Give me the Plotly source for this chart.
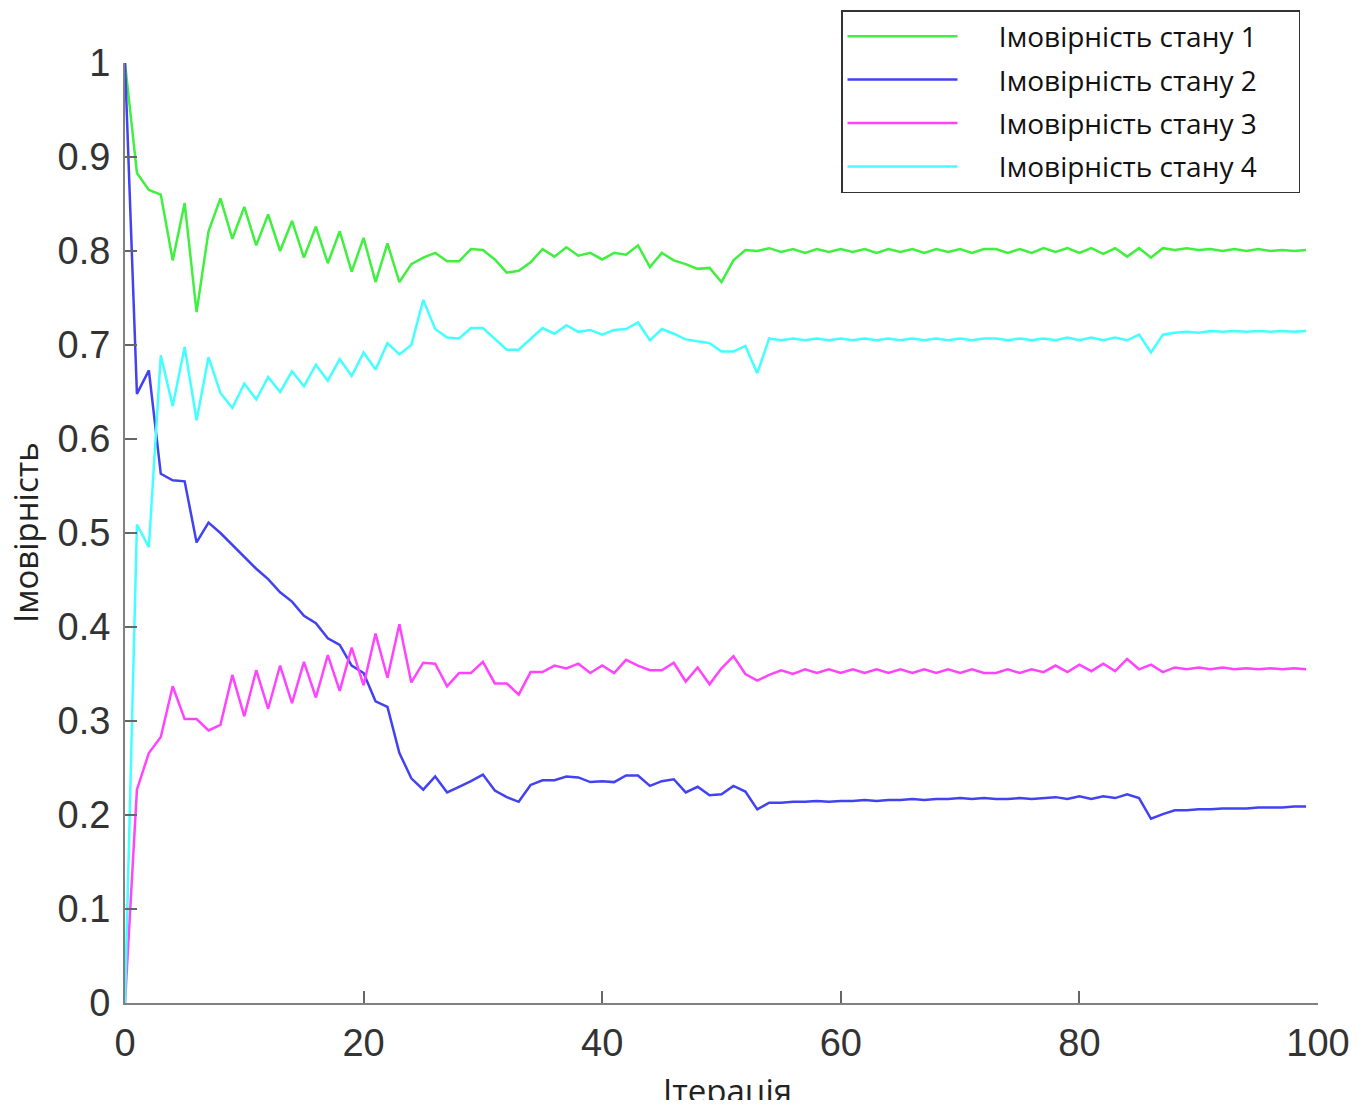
import plotly.graph_objects as go

iterations = list(range(100))

state1 = [1.000, 0.883, 0.865, 0.860, 0.790, 0.851, 0.735, 0.821, 0.856, 0.813,
          0.847, 0.806, 0.839, 0.800, 0.832, 0.793, 0.826, 0.787, 0.821, 0.778,
          0.814, 0.767, 0.808, 0.767, 0.786, 0.793, 0.798, 0.789, 0.789, 0.802,
          0.801, 0.791, 0.777, 0.779, 0.788, 0.802, 0.794, 0.804, 0.795, 0.798,
          0.791, 0.798, 0.796, 0.806, 0.783, 0.798, 0.790, 0.786, 0.781, 0.782,
          0.767, 0.790, 0.801, 0.800, 0.803, 0.799, 0.802, 0.798, 0.802, 0.799,
          0.802, 0.799, 0.802, 0.798, 0.802, 0.799, 0.802, 0.798, 0.802, 0.799,
          0.802, 0.798, 0.802, 0.802, 0.798, 0.802, 0.798, 0.803, 0.799, 0.803,
          0.798, 0.803, 0.797, 0.803, 0.794, 0.803, 0.793, 0.803, 0.801, 0.803,
          0.801, 0.802, 0.800, 0.802, 0.800, 0.802, 0.800, 0.801, 0.800, 0.801]

state2 = [1.000, 0.648, 0.673, 0.563, 0.556, 0.555, 0.490, 0.511, 0.500, 0.487,
          0.474, 0.462, 0.451, 0.437, 0.427, 0.412, 0.404, 0.388, 0.381, 0.359,
          0.351, 0.321, 0.315, 0.266, 0.239, 0.227, 0.241, 0.224, 0.230, 0.236,
          0.243, 0.226, 0.219, 0.214, 0.232, 0.237, 0.237, 0.241, 0.240, 0.235,
          0.236, 0.235, 0.242, 0.242, 0.231, 0.236, 0.238, 0.224, 0.230, 0.221,
          0.222, 0.231, 0.225, 0.206, 0.213, 0.213, 0.214, 0.214, 0.215, 0.214,
          0.215, 0.215, 0.216, 0.215, 0.216, 0.216, 0.217, 0.216, 0.217, 0.217,
          0.218, 0.217, 0.218, 0.217, 0.217, 0.218, 0.217, 0.218, 0.219, 0.217,
          0.220, 0.217, 0.220, 0.218, 0.222, 0.218, 0.196, 0.201, 0.205, 0.205,
          0.206, 0.206, 0.207, 0.207, 0.207, 0.208, 0.208, 0.208, 0.209, 0.209]

state3 = [0.000, 0.227, 0.266, 0.283, 0.337, 0.302, 0.302, 0.290, 0.296, 0.349,
          0.305, 0.354, 0.313, 0.359, 0.319, 0.363, 0.325, 0.370, 0.332, 0.378,
          0.338, 0.393, 0.346, 0.403, 0.341, 0.362, 0.361, 0.337, 0.351, 0.351,
          0.363, 0.340, 0.340, 0.328, 0.352, 0.352, 0.359, 0.356, 0.361, 0.351,
          0.359, 0.351, 0.365, 0.359, 0.354, 0.354, 0.362, 0.342, 0.357, 0.339,
          0.356, 0.369, 0.350, 0.343, 0.349, 0.354, 0.350, 0.355, 0.351, 0.355,
          0.351, 0.355, 0.351, 0.355, 0.351, 0.355, 0.351, 0.355, 0.351, 0.355,
          0.351, 0.355, 0.351, 0.351, 0.355, 0.351, 0.355, 0.352, 0.359, 0.352,
          0.360, 0.353, 0.361, 0.353, 0.366, 0.355, 0.360, 0.352, 0.357, 0.355,
          0.357, 0.355, 0.357, 0.355, 0.356, 0.355, 0.356, 0.355, 0.356, 0.355]

state4 = [0.000, 0.509, 0.485, 0.689, 0.635, 0.698, 0.620, 0.687, 0.649, 0.633,
          0.659, 0.642, 0.666, 0.650, 0.672, 0.656, 0.679, 0.662, 0.685, 0.667,
          0.692, 0.674, 0.702, 0.690, 0.700, 0.748, 0.717, 0.708, 0.707, 0.718,
          0.718, 0.707, 0.695, 0.695, 0.707, 0.718, 0.712, 0.721, 0.714, 0.716,
          0.711, 0.716, 0.717, 0.724, 0.705, 0.717, 0.712, 0.706, 0.704, 0.702,
          0.693, 0.693, 0.699, 0.670, 0.707, 0.705, 0.707, 0.705, 0.707, 0.705,
          0.707, 0.705, 0.707, 0.705, 0.707, 0.705, 0.707, 0.705, 0.707, 0.705,
          0.707, 0.705, 0.707, 0.707, 0.705, 0.707, 0.705, 0.707, 0.705, 0.708,
          0.705, 0.708, 0.705, 0.708, 0.705, 0.711, 0.692, 0.711, 0.713, 0.714,
          0.713, 0.715, 0.714, 0.715, 0.714, 0.715, 0.714, 0.715, 0.714, 0.715]

names = ["Імовірність стану 1", "Імовірність стану 2",
         "Імовірність стану 3", "Імовірність стану 4"]
colors = ["#3ff03f", "#4242f2", "#ff44ff", "#44ffff"]
series = [state1, state2, state3, state4]

x_ticks = [0, 20, 40, 60, 80, 100]
y_ticks = [0, 0.1, 0.2, 0.3, 0.4, 0.5, 0.6, 0.7, 0.8, 0.9, 1]
x_title = "Ітерація"
y_title = "Імовірність"

NB = "\u00a0"
fig = go.Figure()
for name, col, ys in zip(names, colors, series):
    fig.add_trace(go.Scatter(x=iterations, y=ys, mode="lines",
                             name=NB * 5 + name + NB * 5,
                             legendgroup=name,
                             line=dict(color=col, width=2.5)))

W, H = 1349, 1092
L, R, T, B = 117, 39, 55, 97
plot_w, plot_h = W - L - R, H - T - B
axis_font = dict(family="Liberation Sans, Arial, sans-serif", size=38, color="#333333")
title_font = dict(family="Open Sans, sans-serif", size=33, color="#222222")
fig.update_layout(
    width=W, height=H,
    margin=dict(l=L, r=R, t=T, b=B, autoexpand=False),
    paper_bgcolor="white", plot_bgcolor="white",
    showlegend=True,
    legend=dict(xref="container", yref="container",
                x=833 / W, y=1 - 2 / H, xanchor="left", yanchor="top",
                bordercolor="#333333", borderwidth=1.5, bgcolor="white",
                font=dict(family="Open Sans, sans-serif", size=28, color="#111111"),
                itemwidth=110, tracegroupgap=4, traceorder="grouped"),
    xaxis=dict(range=[0, 100], tickvals=x_ticks, ticks="inside", ticklen=12,
               tickcolor="#666666", tickwidth=1.5,
               showline=True, linecolor="#808080", linewidth=2,
               showgrid=False, zeroline=False, tickfont=axis_font,
               ticklabelstandoff=5, automargin=False),
    yaxis=dict(range=[0, 1], tickvals=y_ticks, ticks="inside", ticklen=12,
               tickcolor="#666666", tickwidth=1.5,
               showline=True, linecolor="#808080", linewidth=2,
               showgrid=False, zeroline=False, tickfont=axis_font,
               ticklabelstandoff=5, automargin=False),
    annotations=[
        dict(text=x_title, xref="paper", yref="paper",
             x=0.505, y=-87 / plot_h, xanchor="center", yanchor="middle",
             showarrow=False, font=title_font),
        dict(text=y_title, xref="paper", yref="paper",
             x=-100 / plot_w, y=0.5, xanchor="center", yanchor="middle",
             textangle=-90, showarrow=False, font=title_font),
    ],
)

fig.write_html("out.html")
